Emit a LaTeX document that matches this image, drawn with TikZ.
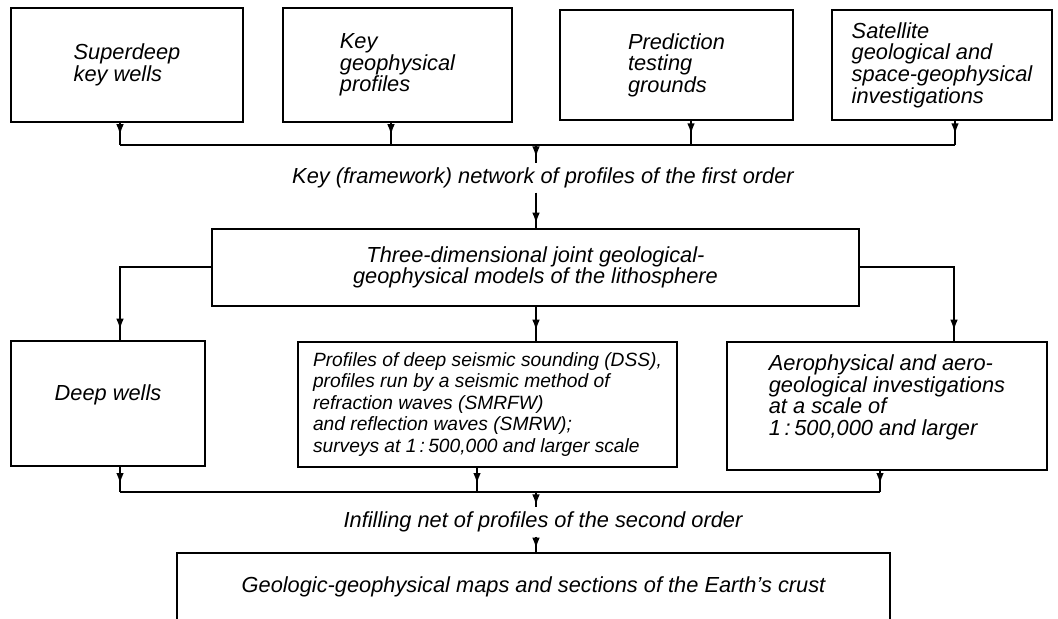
\documentclass[tikz,border=0pt]{standalone}
\usepackage{fontspec}
\setmainfont{Liberation Sans}
\usetikzlibrary{arrows.meta,decorations.markings}

\begin{document}
\begin{tikzpicture}[x=0.5pt,y=-0.5pt,
    box/.style={draw,line width=1.3pt,inner sep=0pt,align=left,
        font=\itshape\fontsize{10.9}{10.8}\selectfont},
    lbl/.style={inner sep=2pt,font=\itshape\fontsize{10.9}{10.8}\selectfont},
    link/.style={line width=1pt},
    arrowat/.style={postaction={decorate},decoration={markings,
        mark=at position #1 with {\arrow{Latex[length=5.5pt,width=3.8pt]}}}}]
    \useasboundingbox (0,0) rectangle (1058,619);
    % sources of the first order
    \node[box,minimum width=116pt,minimum height=57pt] (superdeep) at (127,65) {Superdeep\\key wells};
    \node[box,minimum width=114.5pt,minimum height=57pt] (keyprof) at (397.5,65) {Key\\geophysical\\profiles};
    \node[box,minimum width=116.5pt,minimum height=55pt] (testing) at (676.5,65) {Prediction\\testing\\grounds};
    \node[box,minimum width=110pt,minimum height=55pt] (satellite) at (942,65) {Satellite\\geological and\\space-geophysical\\investigations};
    \coordinate (b1) at (120,145);
    \coordinate (b2) at (391,145);
    \coordinate (b3) at (691,145);
    \coordinate (b4) at (955,145);
    \coordinate (b0) at (536,145);
    \draw[link] (b1) -- (b4);
    \draw[link,arrowat=0.55] (b1 |- superdeep.south) -- (b1);
    \draw[link,arrowat=0.55] (b2 |- keyprof.south) -- (b2);
    \draw[link,arrowat=0.55] (b3 |- testing.south) -- (b3);
    \draw[link,arrowat=0.55] (b4 |- satellite.south) -- (b4);
    \node[lbl] (net1) at (543,178) {Key (framework) network of profiles of the first order};
    \draw[link,arrowat=-3pt] (b0) -- (b0 |- net1.north);
    % models
    \node[box,align=center,minimum width=323.5pt,minimum height=38.5pt] (model) at (535.5,267.5) {Three-dimensional joint geological-\\geophysical models of the lithosphere};
    \draw[link,arrowat=-2pt] (b0 |- net1.south) -- (b0 |- model.north);
    % sources of the second order
    \node[box,minimum width=97pt,minimum height=62.5pt] (deep) at (108,403.5) {Deep wells\\~};
    \node[box,minimum width=189.5pt,minimum height=62.5pt,
        font=\itshape\fontsize{9.6}{10.75}\selectfont] (dss) at (487.5,404.5) {Profiles of deep seismic sounding (DSS),\\profiles run by a seismic method of\\refraction waves (SMRFW)\\and reflection waves (SMRW);\\surveys at 1\,:\,500,000 and larger scale};
    \node[box,minimum width=160pt,minimum height=64pt] (aero) at (887,406) {Aerophysical and aero-\\geological investigations\\at a scale of\\1\,:\,500,000 and larger\\~};
    \draw[link,arrowat=-5pt] (model.west) -| ([xshift=6pt]deep.north);
    \draw[link,arrowat=-5pt] (model.south -| b0) -- (b0 |- dss.north);
    \draw[link,arrowat=-5pt] (model.east) -| ([xshift=33.5pt]aero.north);
    \coordinate (c1) at (120,492);
    \coordinate (c2) at (477,492);
    \coordinate (c3) at (880,492);
    \coordinate (c0) at (536,492);
    \draw[link] (c1) -- (c3);
    \draw[link,arrowat=-4pt] (c1 |- deep.south) -- (c1);
    \draw[link,arrowat=-4pt] (c2 |- dss.south) -- (c2);
    \draw[link,arrowat=-4pt] (c3 |- aero.south) -- (c3);
    \node[lbl] (net2) at (543,522) {Infilling net of profiles of the second order};
    \draw[link,arrowat=-1pt] (c0) -- (c0 |- net2.north);
    % result
    \node[box,align=center,minimum width=356.5pt,minimum height=34pt] (maps) at (533.5,587) {Geologic-geophysical maps and sections of the Earth's crust};
    \draw[link,arrowat=-1.5pt] (c0 |- net2.south) -- (c0 |- maps.north);
\end{tikzpicture}
\end{document}
